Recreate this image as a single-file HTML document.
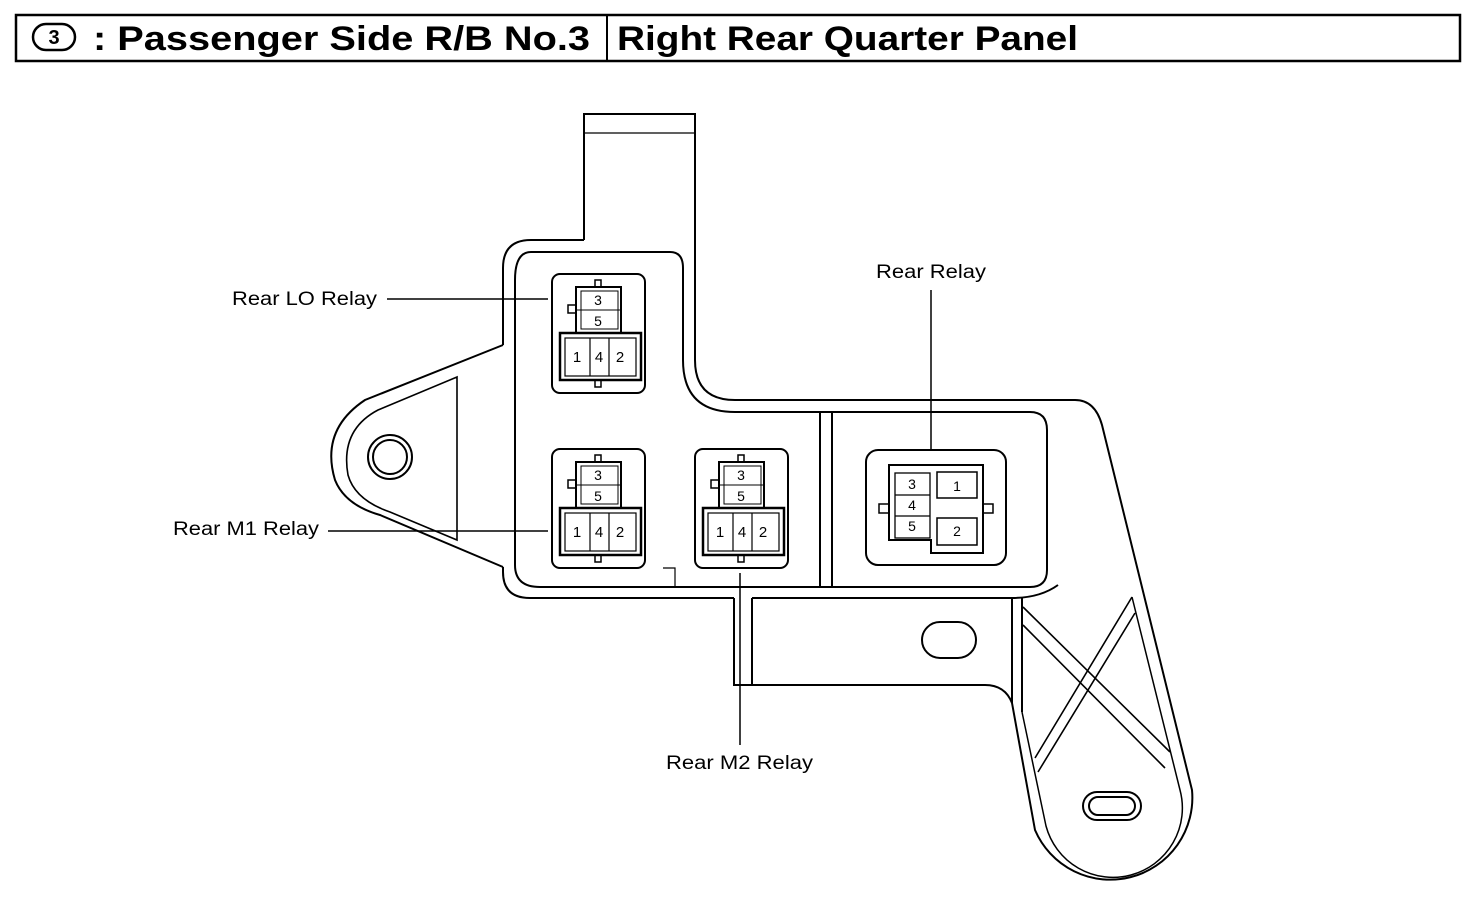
<!DOCTYPE html>
<html><head><meta charset="utf-8"><style>
body{margin:0;background:#fff;}
svg{display:block;}
text{font-family:"Liberation Sans",Arial,sans-serif;fill:#000;}
</style></head><body>
<svg width="1472" height="904" viewBox="0 0 1472 904" xmlns="http://www.w3.org/2000/svg">
<g fill="none" stroke="#000" stroke-width="2">
<rect x="16" y="15" width="1444" height="46" stroke-width="2.5"/>
<line x1="607" y1="15" x2="607" y2="61"/>
<rect x="33" y="24" width="42" height="26" rx="13" stroke-width="2.5"/>
</g>
<text x="54" y="44" font-size="20" font-weight="bold" text-anchor="middle">3</text>
<text x="93" y="50" font-size="34" font-weight="bold" textLength="497" lengthAdjust="spacingAndGlyphs">: Passenger Side R/B No.3</text>
<text x="617" y="50" font-size="34" font-weight="bold" textLength="461" lengthAdjust="spacingAndGlyphs">Right Rear Quarter Panel</text>

<g fill="none" stroke="#000" stroke-width="2">
<path d="M584,240 V114 H695 V360"/>
<line x1="584" y1="133" x2="695" y2="133" stroke-width="1.3"/>
<path d="M584,240 H531 Q503,240 503,268 V345"/>
<path d="M503,567 V572 Q503,598 530,598 H734"/>
<path d="M695,360 Q695,400 735,400 H1075 Q1095,400 1102,425 L1192,790 A82,82 0 0 1 1035,830 L1012,703 Q1005,685 985,685 H734 V598"/>
<path d="M752,598 V685"/>
<path d="M752,598 H1012 V703"/>
<path d="M1022,598 V712"/>
<path d="M1012,598 Q1040,598 1058,585"/>
<path d="M531,252 H670 Q683,252 683,268 V360 Q683,412 735,412 H1030 Q1047,412 1047,430 V570 Q1047,587 1030,587 H540 Q515,587 515,565 V280 Q515,252 531,252"/>
<line x1="820" y1="412" x2="820" y2="587"/>
<line x1="832" y1="412" x2="832" y2="587"/>
<path d="M663,568 H675 V587" stroke-width="1.2"/>
<path d="M503,345 L365,400 Q320,430 335,480 Q345,505 380,515 L503,567"/>
<path d="M457,377 L378,410 Q340,430 348,475 Q355,500 390,512 L457,540 Z" stroke-width="1.6"/>
<circle cx="390" cy="457" r="22"/>
<circle cx="390" cy="457" r="17"/>
<rect x="922" y="622" width="54" height="36" rx="18"/>
<path d="M1022,712 L1046,826 A68,68 0 0 0 1180,790 L1132,597" stroke-width="1.5"/>
<path d="M1023,607 L1170,752 M1023,625 L1165,768" stroke-width="1.6"/>
<path d="M1132,597 L1035,758 M1135,613 L1038,772" stroke-width="1.6"/>
<rect x="1083" y="792" width="58" height="28" rx="14"/>
<rect x="1089" y="797" width="46" height="18" rx="9"/>
</g>

<defs>
<g id="r">
<rect x="552" y="274" width="93" height="119" rx="8" fill="none" stroke="#000" stroke-width="2"/>
<rect x="595" y="280" width="6" height="7" fill="#fff" stroke="#000" stroke-width="1.5"/>
<rect x="595" y="380" width="6" height="7" fill="#fff" stroke="#000" stroke-width="1.5"/>
<rect x="568" y="305" width="8" height="8" fill="#fff" stroke="#000" stroke-width="1.5"/>
<rect x="576" y="287" width="45" height="46" fill="#fff" stroke="#000" stroke-width="2"/>
<rect x="581" y="291" width="37" height="38" fill="none" stroke="#000" stroke-width="1"/>
<line x1="576" y1="310" x2="621" y2="310" stroke="#000" stroke-width="1"/>
<rect x="560" y="333" width="81" height="47" fill="#fff" stroke="#000" stroke-width="2.5"/>
<rect x="565" y="338" width="71" height="38" fill="none" stroke="#000" stroke-width="1.2"/>
<line x1="590" y1="338" x2="590" y2="376" stroke="#000" stroke-width="1.2"/>
<line x1="609" y1="338" x2="609" y2="376" stroke="#000" stroke-width="1.2"/>
<text x="598" y="305" font-size="14" text-anchor="middle">3</text>
<text x="598" y="326" font-size="14" text-anchor="middle">5</text>
<text x="577" y="362" font-size="15" text-anchor="middle">1</text>
<text x="599" y="362" font-size="15" text-anchor="middle">4</text>
<text x="620" y="362" font-size="15" text-anchor="middle">2</text>
</g>
</defs>
<use href="#r"/>
<use href="#r" transform="translate(0,175)"/>
<use href="#r" transform="translate(143,175)"/>

<g fill="none" stroke="#000" stroke-width="2">
<rect x="866" y="450" width="140" height="115" rx="12"/>
<rect x="879" y="504" width="10" height="9" fill="#fff" stroke-width="1.5"/>
<rect x="983" y="504" width="10" height="9" fill="#fff" stroke-width="1.5"/>
<path d="M889,465 H983 V553 H931 V540 H889 Z" fill="#fff"/>
<rect x="895" y="473" width="35" height="65" stroke-width="1.3"/>
<line x1="895" y1="495" x2="930" y2="495" stroke-width="1.2"/>
<line x1="895" y1="516" x2="930" y2="516" stroke-width="1.2"/>
<rect x="937" y="472" width="40" height="26" stroke-width="1.5"/>
<rect x="937" y="518" width="40" height="27" stroke-width="1.5"/>
</g>
<text x="912" y="489" font-size="14" text-anchor="middle">3</text>
<text x="912" y="510" font-size="14" text-anchor="middle">4</text>
<text x="912" y="531" font-size="14" text-anchor="middle">5</text>
<text x="957" y="491" font-size="14" text-anchor="middle">1</text>
<text x="957" y="536" font-size="14" text-anchor="middle">2</text>

<g stroke="#000" stroke-width="1.5">
<line x1="387" y1="299" x2="548" y2="299"/>
<line x1="328" y1="531" x2="548" y2="531"/>
<line x1="931" y1="290" x2="931" y2="450"/>
<line x1="740" y1="573" x2="740" y2="745"/>
</g>
<text x="232" y="305" font-size="19" textLength="145" lengthAdjust="spacingAndGlyphs">Rear LO Relay</text>
<text x="173" y="535" font-size="19" textLength="146" lengthAdjust="spacingAndGlyphs">Rear M1 Relay</text>
<text x="876" y="278" font-size="19" textLength="110" lengthAdjust="spacingAndGlyphs">Rear Relay</text>
<text x="666" y="769" font-size="19" textLength="147" lengthAdjust="spacingAndGlyphs">Rear M2 Relay</text>
</svg>
</body></html>
